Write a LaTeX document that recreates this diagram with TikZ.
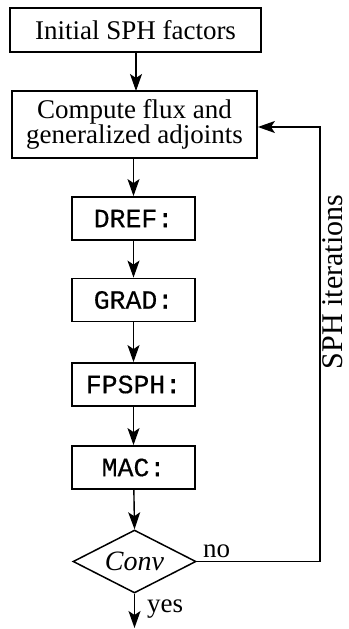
\documentclass[tikz,border=0pt]{standalone}
\usepackage{fontspec}
\setmainfont{Liberation Serif}
\setmonofont[FakeBold=0.35]{Liberation Mono}
\usetikzlibrary{shapes.geometric,arrows.meta}
\begin{document}
\begin{tikzpicture}[x=1pt,y=-1pt,
  box/.style={draw,line width=1.8pt,inner sep=0pt,align=center,
    font=\fontsize{27}{24}\selectfont},
  mbox/.style={draw,line width=1.8pt,inner sep=0pt,minimum width=123pt,
    minimum height=43pt,font=\fontsize{26.5}{26.5}\ttfamily},
  dec/.style={draw,diamond,aspect=1.95,line width=1.5pt,inner sep=0pt,
    minimum width=123pt,minimum height=63pt,font=\fontsize{28}{28}\selectfont\itshape},
  lbl/.style={inner sep=0pt,font=\fontsize{27}{27}\selectfont},
  arr/.style={line width=1.4pt,-{Stealth[length=17pt,width=12pt,inset=4pt]}},
  ln/.style={line width=1.4pt}]
\useasboundingbox (0,0) rectangle (348,629);
\node[box,minimum width=251pt,minimum height=44pt] (init) at (135.5,30) {Initial SPH factors};
\node[box,minimum width=245pt,minimum height=67pt] (flux) at (134.5,124.5) {Compute flux and\\generalized adjoints};
\node[mbox] (dref) at (133.5,218.5) {DREF:};
\node[mbox] (grad) at (133.5,300) {GRAD:};
\node[mbox] (fpsph) at (133.5,384.5) {FPSPH:};
\node[mbox] (mac) at (133.5,467.5) {MAC:};
\node[dec] (conv) at (134.5,561.5) {Conv};
\coordinate (corner) at (320,561.5);
\coordinate (endp) at (134.5,628);
\draw[arr] (init.south -| 136,0) -- (136,91);
\draw[arr] (flux.south -| 133.5,0) -- (dref.north);
\draw[arr] (dref) -- (grad);
\draw[arr] (grad) -- (fpsph);
\draw[arr] (fpsph) -- (mac);
\draw[arr] (mac) -- (conv.north);
\draw[arr] (conv.south) -- (endp);
\draw[ln] (conv.east) -- (corner);
\draw[arr] (corner) -- (320,127) -- (flux.east |- 0,127);
\node[lbl,anchor=base west] (no) at (203,557) {no};
\node[lbl,anchor=base west] (yes) at (147,612) {yes};
\node[inner sep=0pt,font=\fontsize{30}{30}\selectfont,rotate=90,anchor=base] (iter) at (342,282) {SPH iterations};
\end{tikzpicture}
\end{document}
